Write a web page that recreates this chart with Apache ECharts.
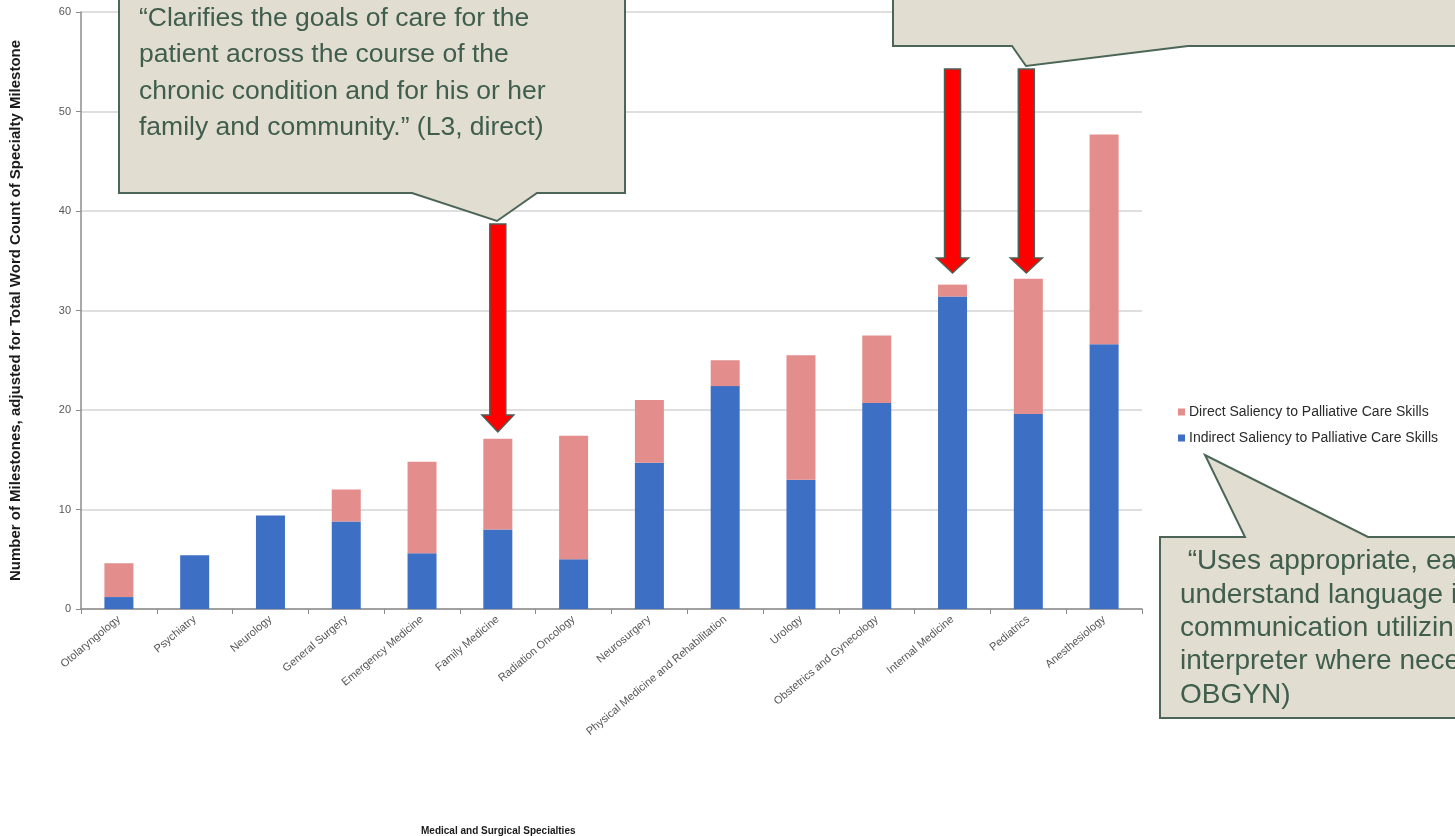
<!DOCTYPE html>
<html>
<head>
<meta charset="utf-8">
<script src="https://cdn.jsdelivr.net/npm/echarts@6/dist/echarts.min.js"></script>
<style>
  html, body { margin: 0; padding: 0; background: #ffffff; }
  #wrap { position: relative; width: 1455px; height: 836px; overflow: hidden; }
  #chart, #notes { position: absolute; left: 0; top: 0; width: 1455px; height: 836px; }
  #chart { filter: blur(0.6px); }
  #notes { pointer-events: none; }
</style>
</head>
<body>
<div id="wrap">
  <div id="chart"></div>
  <div id="notes"></div>
</div>
<script>
// Specialties, ordered by total milestone saliency
const categories = [
  'Otolaryngology', 'Psychiatry', 'Neurology', 'General Surgery',
  'Emergency Medicine', 'Family Medicine', 'Radiation Oncology', 'Neurosurgery',
  'Physical Medicine and Rehabilitation', 'Urology', 'Obstetrics and Gynecology',
  'Internal Medicine', 'Pediatrics', 'Anesthesiology'
];
// Indirect saliency (bottom segment)
const indirectValues = [1.2, 5.4, 9.4, 8.8, 5.6, 8.0, 5.0, 14.7, 22.4, 13.0, 20.7, 31.4, 19.6, 26.6];
// Direct saliency (stacked on top)
const directValues = [3.4, 0, 0, 3.2, 9.2, 9.1, 12.4, 6.3, 2.6, 12.5, 6.8, 1.2, 13.6, 21.1];
const yTicks = [0, 10, 20, 30, 40, 50, 60];

const seriesNames = {
  direct: 'Direct Saliency to Palliative Care Skills',
  indirect: 'Indirect Saliency to Palliative Care Skills'
};

const chart = echarts.init(document.getElementById('chart'), null, { renderer: 'canvas' });
const baseFont = 'Liberation Sans, Arial, sans-serif';

chart.setOption({
  backgroundColor: '#ffffff',
  animation: false,
  textStyle: { fontFamily: baseFont },
  title: {
    text: 'Medical and Surgical Specialties',
    left: 416, top: 821,
    textStyle: { fontSize: 10, fontWeight: 'bold', color: '#1a1a1a', fontFamily: baseFont }
  },
  grid: {
    left: 81, top: 12, width: 1061, height: 597,
    containLabel: false, outerBoundsMode: 'none'
  },
  legend: {
    orient: 'vertical',
    left: 1173, top: 400,
    itemWidth: 7, itemHeight: 7, itemGap: 12,
    icon: 'rect',
    data: [seriesNames.direct, seriesNames.indirect],
    textStyle: { fontSize: 14, color: '#2a2a2a', fontFamily: baseFont, padding: [0, 0, 0, -1] }
  },
  xAxis: {
    type: 'category',
    data: categories,
    boundaryGap: true,
    axisLine: { lineStyle: { color: '#8c8c8c', width: 1.5 } },
    axisTick: { show: true, length: 5, alignWithLabel: false, lineStyle: { color: '#8c8c8c' } },
    axisLabel: { interval: 0, rotate: 40, fontSize: 11, color: '#555555', margin: 9 }
  },
  yAxis: {
    type: 'value',
    min: yTicks[0], max: yTicks[yTicks.length - 1], interval: 10,
    name: 'Number of Milestones, adjusted for Total Word Count of Specialty Milestone',
    nameLocation: 'middle', nameRotate: 90, nameGap: 58,
    nameTextStyle: { fontSize: 15, color: '#1a1a1a', fontWeight: 'bold', fontFamily: baseFont },
    axisLine: { show: true, lineStyle: { color: '#8c8c8c', width: 1.5 } },
    axisTick: { show: true, length: 5, lineStyle: { color: '#8c8c8c' } },
    axisLabel: { fontSize: 11, color: '#555555', margin: 10 },
    splitLine: { lineStyle: { color: '#d4d4d4', width: 1.5 } }
  },
  series: [
    {
      name: seriesNames.indirect,
      type: 'bar', stack: 'total', barWidth: 29,
      itemStyle: { color: '#3d6fc4' },
      data: indirectValues
    },
    {
      name: seriesNames.direct,
      type: 'bar', stack: 'total', barWidth: 29,
      itemStyle: { color: '#e38d8c' },
      data: directValues
    }
  ]
});

// Annotation layer: speech callouts and red arrows
const notes = echarts.init(document.getElementById('notes'), null, { renderer: 'canvas' });
const calloutFill = '#e2ddd1';
const calloutStroke = '#4b6656';
const calloutText = '#3f5e4d';

function downArrow(cx, top, headBase, tip) {
  const s = 8, h = 16;
  return {
    type: 'polygon',
    shape: { points: [[cx - s, top], [cx + s, top], [cx + s, headBase], [cx + h, headBase],
                      [cx, tip], [cx - h, headBase], [cx - s, headBase]] },
    style: { fill: '#ff0000', stroke: '#4e5f55', lineWidth: 1.5 }
  };
}

const xFamily = chart.convertToPixel({ xAxisIndex: 0 }, 'Family Medicine');
const xInternal = chart.convertToPixel({ xAxisIndex: 0 }, 'Internal Medicine');
const xPeds = chart.convertToPixel({ xAxisIndex: 0 }, 'Pediatrics');

notes.setOption({
  animation: false,
  graphic: [
    {
      type: 'polygon',
      shape: { points: [[119, -10], [625, -10], [625, 193], [537, 193], [497, 221], [412, 193], [119, 193]] },
      style: { fill: calloutFill, stroke: calloutStroke, lineWidth: 2 }
    },
    {
      type: 'text', x: 139, y: 0,
      style: {
        text: '\u201CClarifies the goals of care for the\npatient across the course of the\nchronic condition and for his or her\nfamily and community.\u201D (L3, direct)',
        font: '26.5px "Liberation Sans", Arial, sans-serif', fill: calloutText, lineHeight: 36.5
      }
    },
    {
      type: 'polygon',
      shape: { points: [[893, -10], [1470, -10], [1470, 46], [1188, 46], [1026, 66], [1012, 46], [893, 46]] },
      style: { fill: calloutFill, stroke: calloutStroke, lineWidth: 2 }
    },
    {
      type: 'polygon',
      shape: { points: [[1160, 537], [1245, 537], [1205, 455], [1368, 537], [1470, 537], [1470, 718], [1160, 718]] },
      style: { fill: calloutFill, stroke: calloutStroke, lineWidth: 2 }
    },
    {
      type: 'text', x: 1180, y: 545,
      style: {
        text: ' \u201CUses appropriate, easy to\nunderstand language in all phases of\ncommunication utilizing an\ninterpreter where necessary.\u201D (L2, indirect,\nOBGYN)',
        font: '28px "Liberation Sans", Arial, sans-serif', fill: calloutText, lineHeight: 33.3
      }
    },
    downArrow(xFamily, 224, 415, 432),
    downArrow(xInternal, 69, 258, 273),
    downArrow(xPeds - 2, 69, 258, 273)
  ]
});
</script>
</body>
</html>
